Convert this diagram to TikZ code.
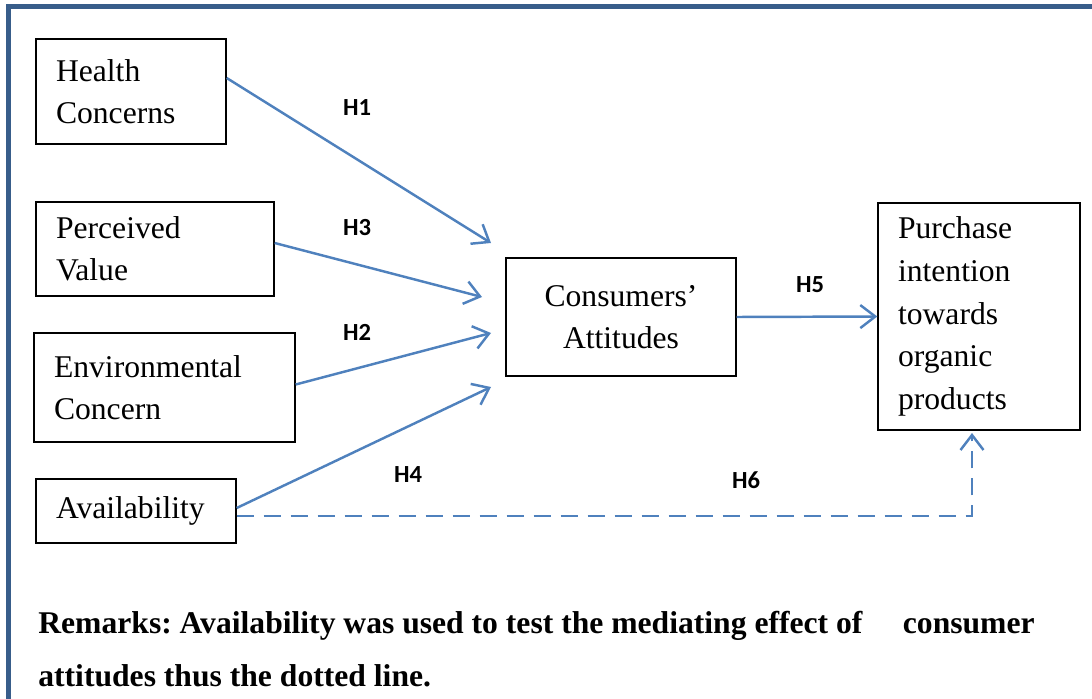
\documentclass[tikz,border=0pt]{standalone}
\usepackage{fontspec}
\setmainfont{Liberation Serif}
\newfontfamily\labelfont{Carlito}
\usetikzlibrary{arrows.meta,positioning}
\definecolor{pathblue}{RGB}{79,129,189}
\definecolor{frameblue}{RGB}{56,93,138}
\frenchspacing

\begin{document}
\begin{tikzpicture}[x=0.02cm, y=-0.02cm,
    factor/.style={draw, line width=0.8pt, inner xsep=0.4cm, inner ysep=0pt, align=left, font=\fontsize{18}{24}\selectfont},
    hyp/.style={font=\labelfont\bfseries\fontsize{14}{16}\selectfont},
    arr/.style={-{Straight Barb[length=3mm, width=4.6mm]}, line width=1.4pt, pathblue}
]
\useasboundingbox (0,0) rectangle (1092,699);
% Frame
\draw[frameblue, line width=2.8pt] (8.5,699) -- (8.5,6.5) -- (1092,6.5);

% Antecedents
\node[factor, text width=3.0cm, minimum height=2.1cm] (health) at (131,91.5) {Health\\Concerns};
\node[factor, text width=3.96cm, minimum height=1.88cm] (value) at (155,249) {Perceived\\Value};
\node[factor, text width=4.42cm, minimum height=2.18cm] (envir) at (164.5,387.5) {Environmental\\Concern};
\node[factor, text width=3.2cm, minimum height=1.28cm] (avail) at (136,511) {Availability};

% Mediator and outcome
\node[factor, align=center, text width=3.8cm, minimum height=2.36cm] (attit) at (621,317) {Consumers’\\Attitudes};
\node[factor, text width=3.24cm, minimum height=4.54cm, font=\fontsize{18}{24.3}\selectfont] (intent) at (979,316.5) {Purchase\\intention\\towards\\organic\\products};

% Arrow ends
\coordinate (h1end) at (491,243);
\coordinate (h3end) at (482,297);
\coordinate (h2end) at (491,333);
\coordinate (h4end) at (491,387);
\coordinate (h6end) at (972,433);

\draw[arr] ([yshift=0.27cm]health.east) -- (h1end);
\draw[arr] ([yshift=0.12cm]value.east) -- (h3end);
\draw[arr] ([yshift=0.06cm]envir.east) -- (h2end);
\draw[arr] ([yshift=0.06cm]avail.east) -- (h4end);
\draw[arr] (attit.east) -- (intent.west);
\draw[arr, dash pattern=on 0.34cm off 0.2cm] ([yshift=-0.1cm]avail.east) -| (h6end);

% Hypotheses
\node[hyp] (lab1) at (357,108) {H1};
\node[hyp] (lab3) at (357,228) {H3};
\node[hyp] (lab2) at (357,332) {H2};
\node[hyp] (lab4) at (408,475) {H4};
\node[hyp] (lab5) at (810,285) {H5};
\node[hyp] (lab6) at (746,480) {H6};

% Remarks
\node[anchor=north west, align=left, inner sep=0pt, font=\bfseries\fontsize{18}{30}\selectfont] (remark) at (38,611) {Remarks: Availability was used to test the mediating effect of\hspace{0.65cm} consumer\\attitudes thus the dotted line.};
\end{tikzpicture}
\end{document}
